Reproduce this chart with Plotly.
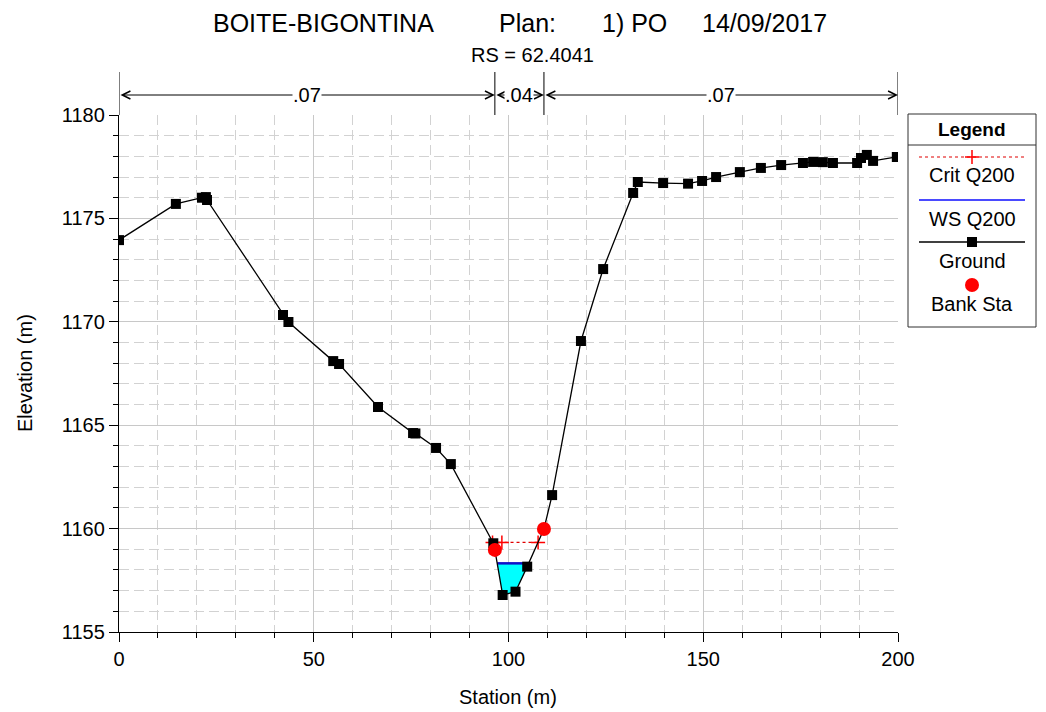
import numpy as np
import plotly.graph_objects as go

# ---------------- data ----------------
station = [0.0, 14.6, 21.3, 22.3, 22.6, 42.1, 43.5, 55.0, 56.5, 66.5, 75.5, 76.1,
           81.4, 85.2, 96.1, 96.5, 98.5, 101.8, 104.8, 109.1, 111.2, 118.6, 124.3,
           132.0, 133.2, 139.7, 146.1, 149.7, 153.3, 159.4, 164.8, 170.0, 175.6,
           178.2, 180.7, 183.3, 189.5, 190.5, 192.0, 193.6, 199.7]
elevation = [1173.95, 1175.70, 1176.00, 1176.03, 1175.89, 1170.33, 1169.99, 1168.10,
             1167.96, 1165.88, 1164.62, 1164.60, 1163.90, 1163.12, 1159.29, 1158.97,
             1156.79, 1156.95, 1158.16, 1159.98, 1161.62, 1169.07, 1172.55, 1176.23,
             1176.76, 1176.71, 1176.68, 1176.81, 1177.00, 1177.24, 1177.44, 1177.58,
             1177.68, 1177.73, 1177.72, 1177.68, 1177.68, 1177.92, 1178.07, 1177.78,
             1177.97]

bank_station = [96.5, 109.1]
bank_elev = [1158.97, 1159.98]

ws_elev = 1158.32            # WS Q200
crit_elev = 1159.33          # Crit Q200
crit_station = [95.9, 98.3, 107.6]

n_bounds = [0.0, 96.5, 109.1, 200.0]
n_values = [".07", ".04", ".07"]

title_parts = ["BOITE-BIGONTINA", "Plan:", "1) PO", "14/09/2017"]
subtitle = "RS = 62.4041"

# ---------------- page geometry (pixels) ----------------
W, H = 1046, 712
PL, PR, PT, PB = 119, 898, 115, 632      # plot area


def fx(p):
    return p / W


def fy(p):
    return 1 - p / H


FONT = "Liberation Sans, Arial, sans-serif"
GRID = "#c8c8c8"
MGRID = "#d2d2d2"


def label(px, py, text, size=20, xanchor="center", angle=0):
    return dict(x=fx(px), y=fy(py), xref="paper", yref="paper", text=text,
                showarrow=False, xanchor=xanchor, yanchor="middle", textangle=angle,
                font=dict(size=size, color="black", family=FONT))


def water_polygon(sta, elev, level, lo, hi):
    """Wetted area between the channel banks below a water level."""
    sta = np.asarray(sta)
    elev = np.asarray(elev)
    xs, ys = [], []
    for i in range(len(sta) - 1):
        x0, x1, y0, y1 = sta[i], sta[i + 1], elev[i], elev[i + 1]
        if x1 < lo or x0 > hi:
            continue
        if y0 < level:
            xs.append(x0)
            ys.append(y0)
        if (y0 - level) * (y1 - level) < 0:
            t = (level - y0) / (y1 - y0)
            xs.append(x0 + t * (x1 - x0))
            ys.append(level)
    return xs, ys


fig = go.Figure()

# water area + water surface
wx, wy = water_polygon(station, elevation, ws_elev, bank_station[0], bank_station[1])
fig.add_trace(go.Scatter(x=wx + [wx[0]], y=wy + [wy[0]], mode="lines", fill="toself",
                         fillcolor="#00ffff", line=dict(width=0), hoverinfo="skip"))
wet = [x for x, y in zip(wx, wy) if abs(y - ws_elev) < 1e-9]
fig.add_trace(go.Scatter(x=[min(wet), max(wet)], y=[ws_elev, ws_elev], mode="lines",
                         line=dict(color="#1010c8", width=2.5)))

# critical depth line
fig.add_trace(go.Scatter(x=crit_station, y=[crit_elev] * len(crit_station),
                         mode="lines+markers",
                         line=dict(color="#e00000", width=1.2, dash="dot"),
                         marker=dict(symbol="cross-thin", size=10,
                                     line=dict(color="#ff0000", width=1.5))))

# ground
fig.add_trace(go.Scatter(x=station, y=elevation, mode="lines+markers",
                         line=dict(color="black", width=1.3),
                         marker=dict(symbol="square", size=10, color="black")))

# bank stations
fig.add_trace(go.Scatter(x=bank_station, y=bank_elev, mode="markers",
                         marker=dict(symbol="circle", size=14, color="#ff0000")))

shapes = []
annotations = []

# Manning's n bands above the plot
for b in n_bounds:
    shapes.append(dict(type="line", xref="x", yref="paper", x0=b, x1=b,
                       y0=fy(PT), y1=fy(72), line=dict(color="black", width=1)))
for i, txt in enumerate(n_values):
    a, b = n_bounds[i], n_bounds[i + 1]
    annotations.append(dict(x=b, y=fy(95), xref="x", yref="paper", ax=a, ay=0,
                            axref="x", ayref="pixel", text="", showarrow=True,
                            arrowside="end+start", arrowhead=5, startarrowhead=5,
                            arrowsize=1.6, startarrowsize=1.6, arrowwidth=1,
                            arrowcolor="black", standoff=0, startstandoff=0))
    annotations.append(dict(x=(a + b) / 2, y=fy(95), xref="x", yref="paper",
                            text=txt, showarrow=False, bgcolor="white",
                            xanchor="center", yanchor="middle", borderpad=0,
                            font=dict(size=20, color="black", family=FONT)))

# title and subtitle
title_x = [211, 497, 600, 700]
for t, px in zip(title_parts, title_x):
    annotations.append(label(px, 23, t, size=25, xanchor="left"))
annotations.append(label(532, 55, subtitle))

# axis titles
annotations.append(label(508, 697, "Station (m)"))
annotations.append(label(25, 373, "Elevation (m)", angle=-90))

# ---------------- legend panel ----------------
LX0, LX1, LY0, LY1 = 908, 1036, 114, 327
LMID = (LX0 + LX1) / 2
shapes.append(dict(type="rect", xref="paper", yref="paper", x0=fx(LX0), x1=fx(LX1),
                   y0=fy(LY1), y1=fy(LY0), line=dict(color="#303030", width=1)))
shapes.append(dict(type="line", xref="paper", yref="paper", x0=fx(LX0), x1=fx(LX1),
                   y0=fy(145), y1=fy(145), line=dict(color="#303030", width=1)))
annotations.append(label(LMID, 129, "<b>Legend</b>", size=19))
legend_rows = [("Crit Q200", 157, 175), ("WS Q200", 200, 219),
               ("Ground", 242, 261), ("Bank Sta", 285, 304)]
for name, _, ty in legend_rows:
    annotations.append(label(LMID, ty, name))

crit_y, ws_y, gr_y, bk_y = [r[1] for r in legend_rows]
seg = [919, 1025]
fig.add_trace(go.Scatter(x=seg, y=[crit_y] * 2, mode="lines",
                         line=dict(color="#e00000", width=1.2, dash="dot"),
                         xaxis="x2", yaxis="y2"))
fig.add_trace(go.Scatter(x=[LMID], y=[crit_y], mode="markers",
                         marker=dict(symbol="cross-thin", size=10,
                                     line=dict(color="#ff0000", width=1.5)),
                         xaxis="x2", yaxis="y2"))
fig.add_trace(go.Scatter(x=seg, y=[ws_y] * 2, mode="lines",
                         line=dict(color="#4a4aff", width=2), xaxis="x2", yaxis="y2"))
fig.add_trace(go.Scatter(x=seg, y=[gr_y] * 2, mode="lines",
                         line=dict(color="black", width=1.3), xaxis="x2", yaxis="y2"))
fig.add_trace(go.Scatter(x=[LMID], y=[gr_y], mode="markers",
                         marker=dict(symbol="square", size=10, color="black"),
                         xaxis="x2", yaxis="y2"))
fig.add_trace(go.Scatter(x=[LMID], y=[bk_y], mode="markers",
                         marker=dict(symbol="circle", size=14, color="#ff0000"),
                         xaxis="x2", yaxis="y2"))

fig.update_layout(
    width=W, height=H,
    margin=dict(l=0, r=0, t=0, b=0, autoexpand=False),
    paper_bgcolor="white", plot_bgcolor="white",
    showlegend=False,
    font=dict(family=FONT, size=20, color="black"),
    shapes=shapes, annotations=annotations,
    xaxis=dict(domain=[fx(PL), fx(PR)], range=[0, 200], dtick=50, tick0=0,
               showline=True, linecolor="black", linewidth=1.3,
               ticks="outside", ticklen=9, tickcolor="black", tickwidth=1,
               showgrid=True, gridcolor=GRID, gridwidth=1, zeroline=False,
               tickfont=dict(size=20, family=FONT),
               minor=dict(dtick=10, ticks="outside", ticklen=5, tickcolor="black",
                          showgrid=True, gridcolor=MGRID, griddash="10px,5px",
                          gridwidth=1),
               anchor="y", fixedrange=True),
    yaxis=dict(domain=[fy(PB), fy(PT)], range=[1155, 1180], dtick=5, tick0=1155,
               showline=True, linecolor="black", linewidth=1.3,
               ticks="outside", ticklen=9, tickcolor="black", tickwidth=1,
               showgrid=True, gridcolor=GRID, gridwidth=1, zeroline=False,
               tickfont=dict(size=20, family=FONT),
               minor=dict(dtick=1, ticks="outside", ticklen=5, tickcolor="black",
                          showgrid=True, gridcolor=MGRID, griddash="10px,5px",
                          gridwidth=1),
               anchor="x", fixedrange=True),
    xaxis2=dict(domain=[fx(LX0), fx(LX1)], range=[LX0, LX1], visible=False,
                anchor="y2", fixedrange=True),
    yaxis2=dict(domain=[fy(LY1), fy(LY0)], range=[LY1, LY0], visible=False,
                anchor="x2", fixedrange=True),
)

fig.write_html("out.html")
